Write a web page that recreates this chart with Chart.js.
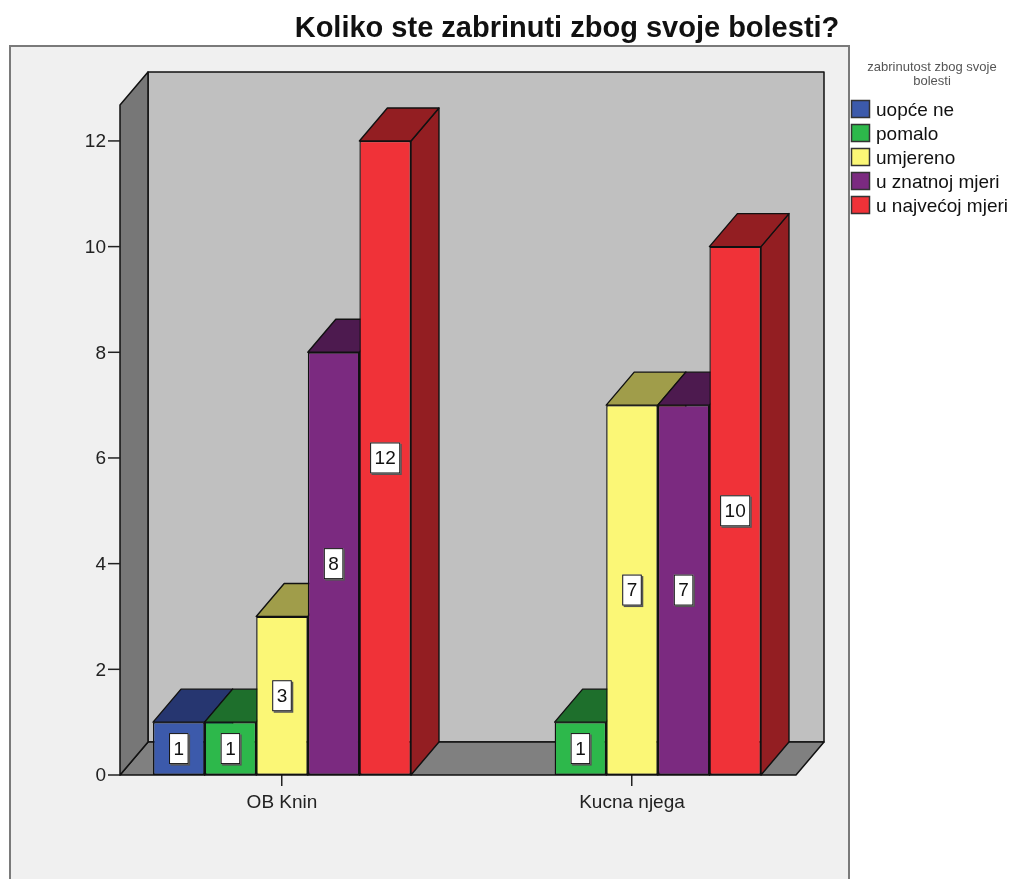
<!DOCTYPE html>
<html>
<head>
<meta charset="utf-8">
<script src="https://cdn.jsdelivr.net/npm/chart.js@4/dist/chart.umd.min.js"></script>
<style>
  html,body{margin:0;background:#fff}
  #wrap{width:1012px;height:879px;position:relative}
</style>
</head>
<body>
<div id="wrap"><canvas id="chart"></canvas></div>
<script>
// data
const categories    = ['OB Knin', 'Kucna njega'];
const seriesNames   = ['uopće ne', 'pomalo', 'umjereno', 'u znatnoj mjeri', 'u najvećoj mjeri'];
const uopceNe       = [1, null];
const pomalo        = [1, 1];
const umjereno      = [3, 7];
const uZnatnojMjeri = [8, 7];
const uNajvecojMjeri= [12, 10];
const yTicks        = [0, 2, 4, 6, 8, 10, 12];
const yMax          = 12.68;

const titleText   = 'Koliko ste zabrinuti zbog svoje bolesti?';
const legendTitle = ['zabrinutost zbog svoje', 'bolesti'];

const frontColors = ['#3c5aab', '#2db84b', '#fbf776', '#7b2a80', '#f03238'];
const darkColors  = ['#263670', '#1e6f2c', '#a09d4a', '#4d1a4f', '#931e22'];

const FONT = '"Liberation Sans", Arial, sans-serif';
const DX = 28, DY = -33;   // depth offset of the 3d boxes

function poly(ctx, pts, fill){
  ctx.beginPath();
  ctx.moveTo(pts[0][0], pts[0][1]);
  for(let k=1;k<pts.length;k++) ctx.lineTo(pts[k][0], pts[k][1]);
  ctx.closePath();
  ctx.fillStyle = fill; ctx.fill(); ctx.stroke();
}

function barList(chart){
  const out = [];
  chart.data.datasets.forEach((ds,i)=>{
    chart.getDatasetMeta(i).data.forEach((el,j)=>{
      if(ds.data[j]!=null) out.push({ el, i, v: ds.data[j] });
    });
  });
  return out.sort((p,q)=>p.el.x-q.el.x);
}

const box3d = {
  id:'box3d',
  beforeDraw(chart){
    const ctx = chart.ctx;
    ctx.save();
    ctx.fillStyle='#fff'; ctx.fillRect(0,0,chart.width,chart.height);
    ctx.fillStyle='#f0f0f0'; ctx.fillRect(10,46,839,860);
    ctx.strokeStyle='#7a7a7a'; ctx.lineWidth=2; ctx.strokeRect(10,46,839,860);
    ctx.restore();
  },
  beforeDatasetsDraw(chart){
    const { ctx, chartArea:a, scales:{ y } } = chart;
    const L = a.left+13, R = a.right-11, B = y.getPixelForValue(0), T = a.top;
    ctx.save();
    ctx.lineWidth = 1.5; ctx.strokeStyle = '#111'; ctx.lineJoin = 'round';
    poly(ctx, [[L+DX,T+DY],[R+DX,T+DY],[R+DX,B+DY],[L+DX,B+DY]], '#c0c0c0');
    poly(ctx, [[L,B],[R,B],[R+DX,B+DY],[L+DX,B+DY]], '#808080');
    poly(ctx, [[L,T],[L+DX,T+DY],[L+DX,B+DY],[L,B]], '#777777');

    ctx.font = '19px '+FONT; ctx.fillStyle = '#222';
    ctx.textAlign = 'right'; ctx.textBaseline = 'middle';
    ctx.lineWidth = 1.5; ctx.strokeStyle = '#222';
    yTicks.forEach(v=>{
      const py = y.getPixelForValue(v);
      ctx.beginPath(); ctx.moveTo(L-12,py); ctx.lineTo(L,py); ctx.stroke();
      ctx.fillText(String(v), L-14, py+1);
    });

    ctx.lineWidth = 1.4; ctx.strokeStyle = '#111';
    barList(chart).forEach(({el,i})=>{
      const l = el.x-el.width/2, r = el.x+el.width/2, t = el.y, b = el.base;
      poly(ctx, [[r,t],[r+DX,t+DY],[r+DX,b+DY],[r,b]], darkColors[i]);
      poly(ctx, [[l,t],[l+DX,t+DY],[r+DX,t+DY],[r,t]], darkColors[i]);
    });
    ctx.restore();
  },
  afterDatasetsDraw(chart){
    const ctx = chart.ctx;
    ctx.save();
    ctx.font = '19px '+FONT; ctx.textAlign='center'; ctx.textBaseline='middle';
    barList(chart).forEach(({el,v})=>{
      const s = String(v);
      const w = ctx.measureText(s).width + 9, h = 31;
      const cx = el.x, cy = (el.y+el.base)/2;
      ctx.fillStyle='#555'; ctx.fillRect(cx-w/2+1.5, cy-h/2+1.5, w, h);
      ctx.fillStyle='#fff'; ctx.fillRect(cx-w/2, cy-h/2, w, h);
      ctx.strokeStyle='#111'; ctx.lineWidth=1; ctx.strokeRect(cx-w/2+0.5, cy-h/2+0.5, w-1, h-1);
      ctx.fillStyle='#111'; ctx.fillText(s, cx, cy+1);
    });
    ctx.restore();
  },
  afterDraw(chart){
    const ctx = chart.ctx;
    ctx.save();
    ctx.fillStyle='#111'; ctx.textAlign='center'; ctx.textBaseline='alphabetic';
    ctx.font = 'bold 29px '+FONT;
    ctx.fillText(titleText, 567, 37);

    ctx.font = '13px '+FONT; ctx.fillStyle='#555';
    ctx.fillText(legendTitle[0], 932, 71);
    ctx.fillText(legendTitle[1], 932, 85);

    ctx.font = '19px '+FONT; ctx.textAlign='left'; ctx.textBaseline='middle';
    seriesNames.forEach((name,i)=>{
      const top = 100 + i*24;
      ctx.fillStyle = frontColors[i]; ctx.fillRect(851, top, 19, 18);
      ctx.strokeStyle='#333'; ctx.lineWidth=1.5; ctx.strokeRect(851.5, top+0.5, 18, 17);
      ctx.fillStyle='#111'; ctx.fillText(name, 876, top+11);
    });
    ctx.restore();
  }
};

const seriesValues = [uopceNe, pomalo, umjereno, uZnatnojMjeri, uNajvecojMjeri];

new Chart(document.getElementById('chart'), {
  type:'bar',
  data:{
    labels: categories,
    datasets: seriesNames.map((name,i)=>({
      label: name,
      data: seriesValues[i],
      backgroundColor: frontColors[i],
      borderColor: '#111',
      borderWidth: 1.4,
      borderSkipped: false,
      categoryPercentage: 0.737,
      barPercentage: 1
    }))
  },
  options:{
    responsive:true, maintainAspectRatio:false, animation:false,
    layout:{ padding:{ left:107, right:205, top:105, bottom:0 } },
    plugins:{ legend:{ display:false }, tooltip:{ enabled:false }, title:{ display:false } },
    scales:{
      x:{
        offset:true,
        grid:{ offset:false, drawOnChartArea:false, drawTicks:true, tickLength:11, color:'#222', lineWidth:1.5 },
        border:{ display:false },
        ticks:{ font:{ family:FONT, size:19 }, color:'#222', padding:5 },
        afterFit(s){ s.height = 104; }
      },
      y:{ display:false, min:0, max:yMax }
    }
  },
  plugins:[box3d]
});
</script>
</body>
</html>
